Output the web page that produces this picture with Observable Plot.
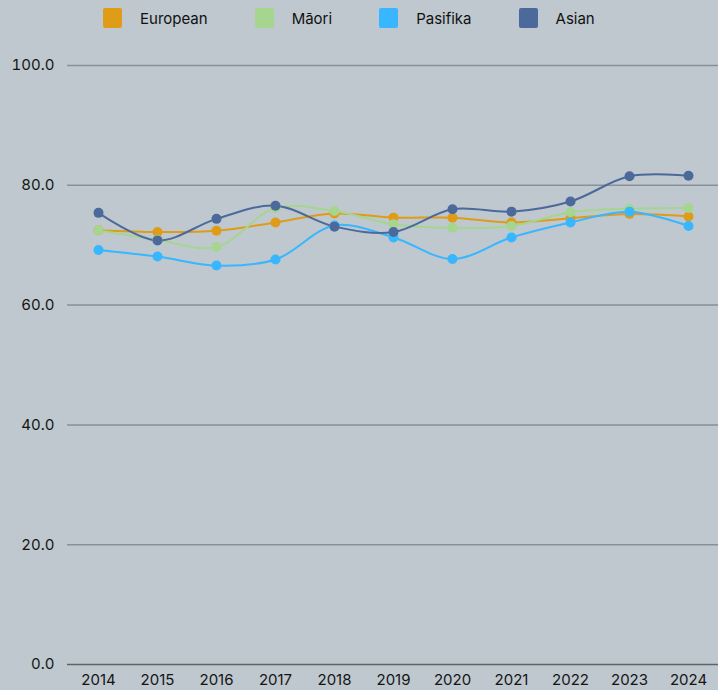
<!DOCTYPE html>
<html>
<head>
<meta charset="utf-8">
<script src="https://cdn.jsdelivr.net/npm/d3@7"></script>
<script src="https://cdn.jsdelivr.net/npm/@observablehq/plot@0.6"></script>
<style>
  html, body { margin: 0; padding: 0; background: #bec8ce; width: 718px; height: 690px; overflow: hidden; font-family: "Inter", sans-serif; }
  #legend { height: 36px; display: flex; align-items: center; padding-left: 103px; box-sizing: border-box; font-size: 15px; color: #111; }
  .item { display: flex; align-items: center; margin-right: 47px; }
  .sw { width: 19px; height: 20px; border-radius: 2px; margin-right: 18px; }
  #chart svg { display: block; }
</style>
</head>
<body>
<div id="legend"></div>
<div id="chart"></div>
<script>
const years = ["2014","2015","2016","2017","2018","2019","2020","2021","2022","2023","2024"];
const seriesNames = ["European", "Māori", "Pasifika", "Asian"];
const colors = ["#df9c17", "#a6d58f", "#38b6ff", "#4b6a9b"];
const european = [72.5, 72.2, 72.4, 73.8, 75.3, 74.6, 74.6, 73.8, 74.5, 75.2, 74.8];
const maori    = [72.5, 70.9, 69.7, 76.2, 75.7, 73.5, 72.9, 73.2, 75.5, 76.1, 76.2];
const pasifika = [69.2, 68.1, 66.6, 67.6, 73.3, 71.3, 67.7, 71.3, 73.8, 75.6, 73.2];
const asian    = [75.4, 70.8, 74.4, 76.6, 73.1, 72.2, 76.0, 75.6, 77.3, 81.5, 81.6];
const yTicks = [0, 20, 40, 60, 80, 100];

const valuesBySeries = [european, maori, pasifika, asian];
const data = [];
seriesNames.forEach((s, i) => years.forEach((y, j) => data.push({series: s, year: y, value: valuesBySeries[i][j]})));

// legend
const leg = document.getElementById("legend");
seriesNames.forEach((s, i) => {
  const it = document.createElement("div"); it.className = "item";
  const sw = document.createElement("div"); sw.className = "sw"; sw.style.background = colors[i];
  const t = document.createElement("span"); t.textContent = s;
  it.appendChild(sw); it.appendChild(t);
  leg.appendChild(it);
});

const plot = Plot.plot({
  width: 718,
  height: 654,
  marginLeft: 67,
  marginRight: 0,
  marginTop: 29,
  marginBottom: 26,
  style: { background: "transparent", fontFamily: "Inter, sans-serif", fontSize: "15px", color: "#151515" },
  x: { type: "point", domain: years, padding: 0.46, label: null },
  y: { domain: [0, 100], label: null },
  color: { domain: seriesNames, range: colors },
  marks: [
    Plot.ruleY(yTicks.filter(d => d > 0), { stroke: "#899197", strokeWidth: 1.5 }),
    Plot.ruleY([0], { stroke: "#5c6468", strokeWidth: 1.5 }),
    Plot.axisY({ ticks: yTicks, tickSize: 0, tickPadding: 13, tickFormat: d => d.toFixed(1), fontSize: 15 }),
    Plot.axisX({ tickSize: 0, tickPadding: 10, fontSize: 15 }),
    ...seriesNames.map((s, i) => Plot.line(data.filter(d => d.series === s), { x: "year", y: "value", stroke: colors[i], strokeWidth: 2, curve: "catmull-rom" })),
    ...seriesNames.map((s, i) => Plot.dot(data.filter(d => d.series === s), { x: "year", y: "value", fill: colors[i], r: 5 }))
  ]
});
document.getElementById("chart").appendChild(plot);
</script>
</body>
</html>
